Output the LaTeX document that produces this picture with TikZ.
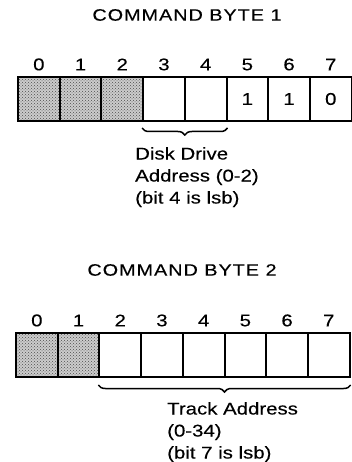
\documentclass[tikz,border=0pt]{standalone}
\usepackage{fontspec}
\setmainfont{Liberation Sans}[FakeStretch=1.2,FakeBold=0.3]
\newfontfamily\titlefont{Liberation Sans}[FakeStretch=1.2,FakeBold=0.3,LetterSpace=6]
\usetikzlibrary{positioning, patterns, decorations.pathreplacing}

\begin{document}
\begin{tikzpicture}[
  x=1pt, y=-1pt,
  every node/.style={font=\fontsize{17}{22}\selectfont},
  cell/.style={draw, line width=2pt, minimum width=41.7pt, minimum height=44pt, inner sep=0pt},
  unused/.style={preaction={fill=gray!40}, pattern=crosshatch dots, pattern color=black!70},
  bitnum/.style={label distance=2pt},
  brace/.style={decorate, decoration={brace, mirror, amplitude=7pt}, line width=1.5pt},
  title/.style={font=\fontsize{16.5}{22}\titlefont},
  note/.style={align=left, inner sep=0pt, anchor=north west}
]
  \useasboundingbox (0,0) rectangle (352,462);

  % command byte 1
  \node[title] (t1) at (187,15) {COMMAND BYTE 1};

  \node[cell, unused, label={[bitnum]above:0}] (a0) at (38.85,99)  {};
  \node[cell, unused, label={[bitnum]above:1}] (a1) at (80.55,99)  {};
  \node[cell, unused, label={[bitnum]above:2}] (a2) at (122.25,99) {};
  \node[cell, label={[bitnum]above:3}]         (a3) at (163.95,99) {};
  \node[cell, label={[bitnum]above:4}]         (a4) at (205.65,99) {};
  \node[cell, label={[bitnum]above:5}]         (a5) at (247.35,99) {1};
  \node[cell, label={[bitnum]above:6}]         (a6) at (289.05,99) {1};
  \node[cell, label={[bitnum]above:7}]         (a7) at (330.75,99) {0};

  \draw[brace] ([yshift=-6pt]a3.south west) -- ([yshift=-6pt]a4.south east);
  \node[note] (n1) at (135,147) {Disk Drive\\Address (0-2)\\(bit 4 is lsb)};

  % command byte 2
  \node[title] (t2) at (182,270) {COMMAND BYTE 2};

  \node[cell, unused, label={[bitnum]above:0}] (b0) at (36.85,355)  {};
  \node[cell, unused, label={[bitnum]above:1}] (b1) at (78.55,355)  {};
  \node[cell, label={[bitnum]above:2}]         (b2) at (120.25,355) {};
  \node[cell, label={[bitnum]above:3}]         (b3) at (161.95,355) {};
  \node[cell, label={[bitnum]above:4}]         (b4) at (203.65,355) {};
  \node[cell, label={[bitnum]above:5}]         (b5) at (245.35,355) {};
  \node[cell, label={[bitnum]above:6}]         (b6) at (287.05,355) {};
  \node[cell, label={[bitnum]above:7}]         (b7) at (328.75,355) {};

  \draw[brace] ([yshift=-7pt]b2.south west) -- ([yshift=-7pt]b7.south east);
  \node[note] (n2) at (167,402) {Track Address\\(0-34)\\(bit 7 is lsb)};
\end{tikzpicture}
\end{document}
